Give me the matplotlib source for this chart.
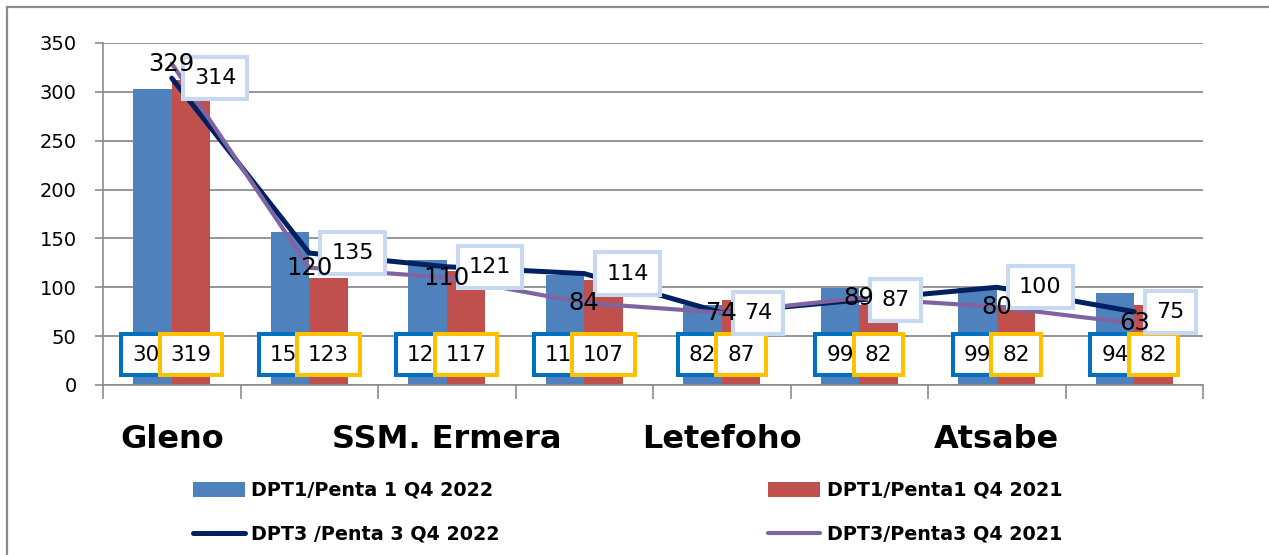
import matplotlib.pyplot as plt
import numpy as np
from matplotlib.lines import Line2D

# categories (only every other name is printed on the axis)
categories = ["Gleno", "", "SSM. Ermera", "", "Letefoho", "", "Atsabe", ""]

# bar heights as drawn
dpt1_2022 = [303, 157, 128, 113, 82, 99, 99, 94]
dpt1_2021 = [312, 110, 117, 107, 87, 82, 82, 82]
# the boxed labels shown on the bars
dpt1_2022_labels = ["303", "157", "128", "113", "82", "99", "99", "94"]
dpt1_2021_labels = ["319", "123", "117", "107", "87", "82", "82", "82"]

# lines
dpt3_2022 = [314, 135, 121, 114, 74, 87, 100, 75]
dpt3_2021 = [329, 120, 110, 84, 74, 89, 80, 63]

series_names = ["DPT1/Penta 1 Q4 2022", "DPT1/Penta1 Q4 2021",
                "DPT3 /Penta 3 Q4 2022", "DPT3/Penta3 Q4 2021"]

W, H = 1269, 555
fig = plt.figure(figsize=(W / 100, H / 100), dpi=100)
ax = fig.add_axes([103 / W, 1 - 385 / H, 1100 / W, 342 / H])

x = np.arange(len(categories))
w = 0.28
gray = "#8c8c8c"

b1 = ax.bar(x - w / 2, dpt1_2022, w, color="#4F81BD", zorder=2)
b2 = ax.bar(x + w / 2, dpt1_2021, w, color="#C0504D", zorder=2)
l1, = ax.plot(x, dpt3_2022, color="#002060", lw=3.6, zorder=3, solid_capstyle="round")
l2, = ax.plot(x, dpt3_2021, color="#8064A2", lw=3.0, zorder=4, solid_capstyle="round")

# bar labels sit in boxes near the base of the bars
for xi, t in zip(x, dpt1_2022_labels):
    ax.text(xi - w / 2, 31, t, ha="center", va="center", fontsize=15.5, zorder=5,
            bbox=dict(boxstyle="square,pad=0.5", fc="white", ec="#0070C0", lw=2.9))
for xi, t in zip(x, dpt1_2021_labels):
    ax.text(xi + w / 2, 31, t, ha="center", va="center", fontsize=15.5, zorder=6,
            bbox=dict(boxstyle="square,pad=0.5", fc="white", ec="#FFC000", lw=2.9))

# line labels
for xi, v in zip(x, dpt3_2022):
    ax.annotate(str(v), (xi, v), xytext=(16, 0), textcoords="offset points",
                ha="left", va="center", fontsize=16, zorder=7,
                bbox=dict(boxstyle="square,pad=0.5", fc="white", ec="#C6D9F0", lw=2.9))
for xi, v in zip(x, dpt3_2021):
    ax.text(xi, v, str(v), ha="center", va="center", fontsize=17.5, zorder=8)

ax.set_xlim(-0.5, len(categories) - 0.5)
ax.set_ylim(0, 350)
ax.set_yticks(np.arange(0, 351, 50))
ax.tick_params(axis="y", labelsize=14, length=6, width=1.2, color=gray, pad=13)
ax.yaxis.grid(True, color=gray, lw=1.3)
ax.set_axisbelow(True)

# boundaries get the tick marks, names go on minor ticks
ax.set_xticks(np.arange(-0.5, len(categories), 1.0))
ax.set_xticklabels([])
ax.tick_params(axis="x", which="major", length=10, width=1.2, color=gray)
ax.set_xticks(x, minor=True)
ax.set_xticklabels(categories, minor=True, fontsize=23, fontweight="bold")
ax.tick_params(axis="x", which="minor", length=0, pad=28)

for s in ["top", "right"]:
    ax.spines[s].set_visible(False)
for s in ["left", "bottom"]:
    ax.spines[s].set_color(gray)
    ax.spines[s].set_linewidth(1.2)

fig.legend([b1, l1, b2, l2],
           [series_names[0], series_names[2], series_names[1], series_names[3]],
           ncol=2, loc="upper left", bbox_to_anchor=(193 / W, 1 - 481 / H),
           frameon=False, borderpad=0, borderaxespad=0,
           prop=dict(size=13.8, weight="bold"),
           handlelength=2.7, handleheight=0.8, handletextpad=0.35,
           columnspacing=14, labelspacing=1.3)

# outer chart border (top and left visible)
fig.add_artist(Line2D([7 / W, 1], [1 - 7 / H, 1 - 7 / H], color=gray, lw=1.6))
fig.add_artist(Line2D([7 / W, 7 / W], [0, 1 - 7 / H], color=gray, lw=1.6))

fig.savefig("out.png", dpi=100, facecolor="white")
